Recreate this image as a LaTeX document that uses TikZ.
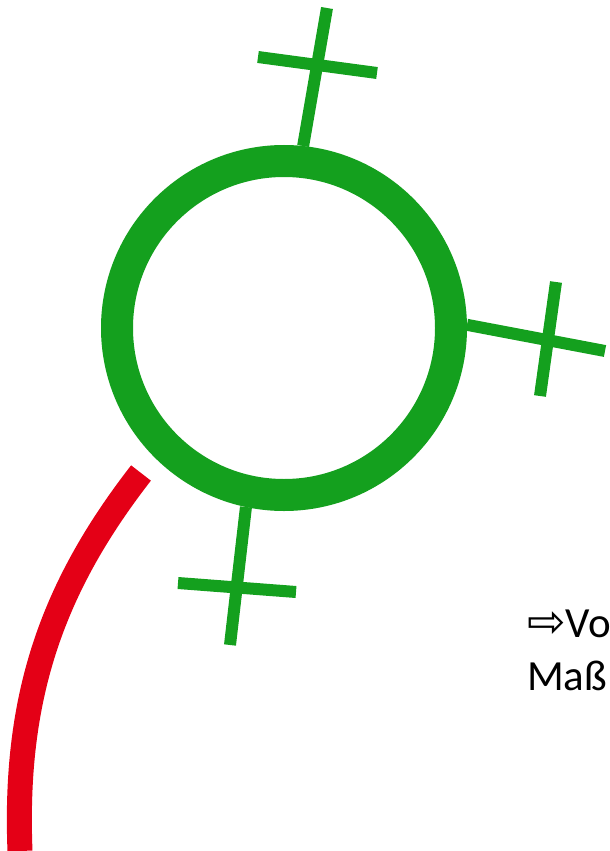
\documentclass[tikz,border=0pt]{standalone}
\usepackage{fontspec}
\usepackage{tikz}
\usetikzlibrary{positioning,calc}
\setmainfont{Carlito}
\newfontfamily\arrowfont{DejaVu Sans}
\definecolor{ringgreen}{RGB}{20,160,30}
\definecolor{arcred}{RGB}{228,0,22}

\begin{document}
\begin{tikzpicture}[x=1pt, y=-1pt]
    \tikzstyle{ringstyle} = [circle, draw=ringgreen, line width=32pt, minimum size=334pt, inner sep=0pt]
    \tikzstyle{crossline} = [draw=ringgreen, line width=12pt]
    \tikzstyle{arcline} = [draw=arcred, line width=25pt]
    \tikzstyle{caption} = [anchor=base west, align=left, inner sep=0pt, font=\fontsize{43}{53}\selectfont]

    \useasboundingbox (0,0) rectangle (610,851);
    \clip (0,0) rectangle (610,851);

    % ring and its three crosses
    \node [ringstyle] (ring) at (284,328) {};

    \coordinate (topend) at (327,8);
    \coordinate (topbarl) at (258,57);
    \coordinate (topbarr) at (377,73);

    \coordinate (rightend) at (605,351);
    \coordinate (rightbart) at (556,282);
    \coordinate (rightbarb) at (540,396);

    \coordinate (botend) at (230,645);
    \coordinate (botbarl) at (178,583);
    \coordinate (botbarr) at (296,592);

    \path [crossline] (ring.84) -- (topend);
    \path [crossline] (topbarl) -- (topbarr);
    \path [crossline] (ring.1) -- (rightend);
    \path [crossline] (rightbart) -- (rightbarb);
    \path [crossline] (ring.258) -- (botend);
    \path [crossline] (botbarl) -- (botbarr);

    % red arc
    \coordinate (arcstart) at (141,473);
    \coordinate (arcend) at (20,851);
    \path [arcline] (arcstart) .. controls (50,590) and (14,700) .. (arcend);

    % text at the right edge (base = last line)
    \node [caption] (note) at (527,690) {{\arrowfont\fontsize{46}{53}\selectfont ⇨}Vo\\Maß};
\end{tikzpicture}
\end{document}
